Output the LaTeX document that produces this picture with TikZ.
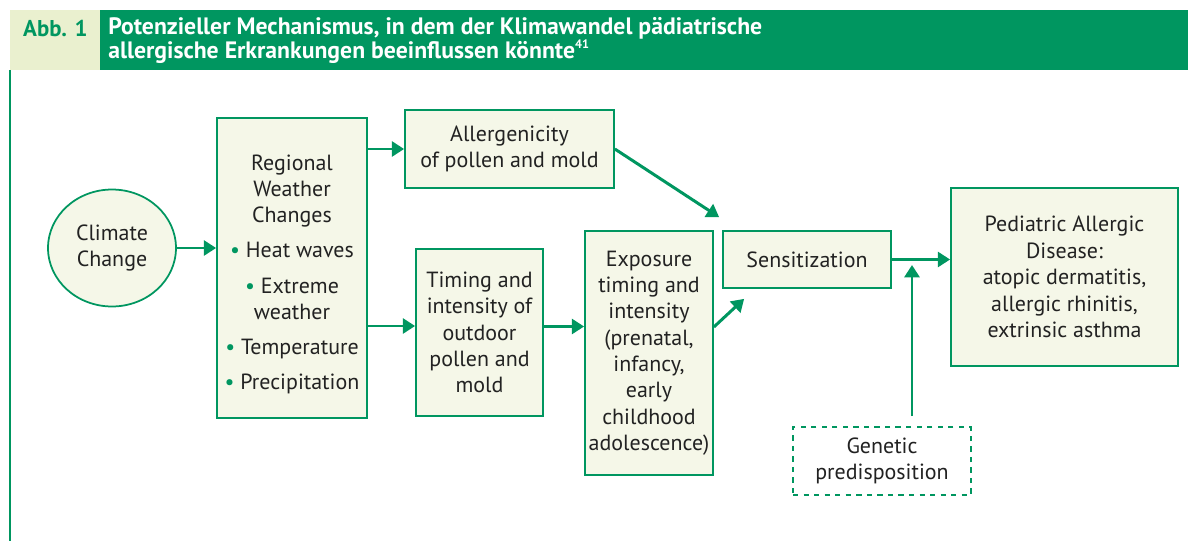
\documentclass[tikz,border=0pt]{standalone}
\usepackage{fontspec}
\setmainfont{PT Sans}
\usepackage{xcolor}
\usetikzlibrary{positioning, shapes.geometric, calc, arrows.meta}

\definecolor{abbgreen}{RGB}{0,150,96}
\definecolor{boxfill}{RGB}{245,247,232}
\definecolor{abbfill}{RGB}{234,240,207}
\definecolor{textdark}{RGB}{34,34,34}

\newcommand{\gdot}{\textcolor{abbgreen}{\textbullet}\ }

\tikzset{
  flowbox/.style={draw=abbgreen, line width=1pt, fill=boxfill, align=center,
    inner sep=0pt, text=textdark, font=\fontsize{12.5}{15}\selectfont},
  genbox/.style={flowbox, fill=white, dashed},
  flowarrow/.style={draw=abbgreen, line width=1.7pt, -{Triangle[length=7pt,width=8.5pt]}}
}

\begin{document}
\begin{tikzpicture}[x=0.02cm, y=-0.02cm]
  \useasboundingbox (0,0) rectangle (1188,541);
  % header bar
  \fill[abbgreen] (10,10) rectangle (1188,70);
  \fill[abbfill] (10,10) rectangle (100,70);
  \draw[abbgreen, line width=0.8pt] (10,70) -- (10,541);
  \node[anchor=west, text=abbgreen, font=\fontsize{13}{15}\selectfont\bfseries] (abb) at (17,29) {Abb. 1};
  \node[anchor=north west, align=left, text=white, font=\fontsize{13.5}{13.5}\selectfont\bfseries, inner sep=0pt] (title) at (108,17)
      {Potenzieller Mechanismus, in dem der Klimawandel pädiatrische\\
       allergische Erkrankungen beeinflussen könnte\textsuperscript{\scriptsize 41}};

  % nodes
  \node[flowbox, ellipse, minimum width=2.56cm, minimum height=2.34cm] (climate) at (112,248) {Climate\\Change};
  \node[flowbox, minimum width=3cm, minimum height=6cm] (regional) at (292,268)
      {\rule{0pt}{16pt}Regional\\Weather\\Changes\\[5pt] \gdot Heat waves\\[5pt] \gdot Extreme\\weather\\[5pt] \gdot Temperature\\[5pt] \gdot Precipitation};
  \node[flowbox, minimum width=4.18cm, minimum height=1.56cm] (allerg) at (509.5,149) {Allergenicity\\of pollen and mold};
  \node[flowbox, minimum width=2.54cm, minimum height=3.34cm] (timing) at (479.5,332.5)
      {Timing and\\intensity of\\outdoor\\pollen and\\mold};
  \node[flowbox, minimum width=2.56cm, minimum height=4.88cm] (exposure) at (649,353)
      {Exposure\\timing and\\intensity\\(prenatal,\\infancy,\\early\\childhood\\adolescence)};
  \node[flowbox, minimum width=3.36cm, minimum height=1.14cm] (sens) at (807,259.5) {Sensitization};
  \node[flowbox, minimum width=4.54cm, minimum height=3.56cm] (pediatric) at (1064.5,277)
      {Pediatric Allergic\\Disease:\\atopic dermatitis,\\allergic rhinitis,\\extrinsic asthma};
  \node[genbox, minimum width=3.56cm, minimum height=1.36cm] (genetic) at (882,461) {Genetic\\predisposition};
  \coordinate (genend) at (912,265);

  % arrows
  \draw[flowarrow] (climate.east) -- (climate.east -| regional.west);
  \draw[flowarrow] (regional.east |- allerg.west) -- (allerg.west);
  \draw[flowarrow] ($(regional.east)+(0,58)$) -- ($(regional.east -| timing.west)+(0,58)$);
  \draw[flowarrow] (allerg.east) -- ($(sens.north west)+(-3,-13)$);
  \draw[flowarrow] ($(timing.east)+(0,-6)$) -- ($(timing.east -| exposure.west)+(0,-6)$);
  \draw[flowarrow] ($(exposure.east)+(0,-26)$) -- ($(sens.south west)+(22,10)$);
  \draw[flowarrow] (sens.east) -- (sens.east -| pediatric.west);
  \draw[flowarrow] ($(genetic.north)+(30,-10)$) -- (genend);
\end{tikzpicture}
\end{document}
